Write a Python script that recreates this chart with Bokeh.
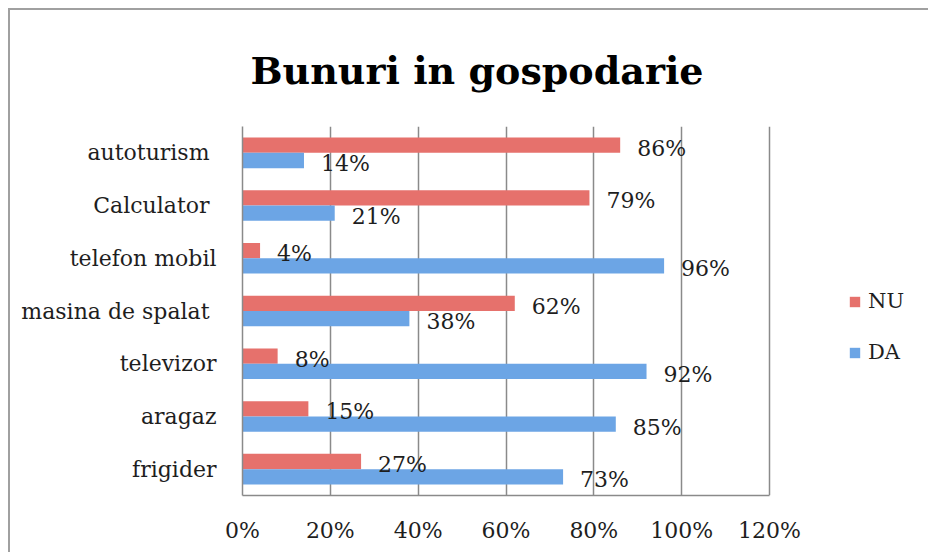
from bokeh.plotting import figure
from bokeh.models import (ColumnDataSource, FactorRange, Legend, LegendItem,
                          NumeralTickFormatter, FixedTicker, Range1d)
from bokeh.transform import dodge
from bokeh.core.properties import value
from bokeh.embed import file_html
from bokeh.resources import INLINE

categories = ["frigider", "aragaz", "televizor", "masina de spalat ",
              "telefon mobil", "Calculator ", "autoturism "]
da = [0.73, 0.85, 0.92, 0.38, 0.96, 0.21, 0.14]
nu = [0.27, 0.15, 0.08, 0.62, 0.04, 0.79, 0.86]
x_ticks = [0, 0.2, 0.4, 0.6, 0.8, 1.0, 1.2]
series_names = ["NU", "DA"]

FONT = "DejaVu Serif"
RED = "#e6716c"
BLUE = "#6ca5e5"
GRID = "#8a8a8a"
TXT = "#1e1e1e"

# layout (pixels): plotted axis spans 0..120% over 527 px; frame continues to the
# right so that the legend can sit beside the plot without being clipped
AXIS_PX = 527
FRAME_PX = 920 - 242
x_end = x_ticks[-1] * FRAME_PX / AXIS_PX

src = ColumnDataSource(dict(
    cat=categories, da=da, nu=nu,
    da_lbl=[f"{round(v * 100)}%" for v in da],
    nu_lbl=[f"{round(v * 100)}%" for v in nu],
))

p = figure(width=920, height=544, output_backend="svg", toolbar_location=None,
           y_range=FactorRange(factors=categories, range_padding=0),
           x_range=Range1d(0, x_end), title="Bunuri in gospodarie",
           min_border_left=232, min_border_right=10,
           min_border_top=116, min_border_bottom=59)
p.styles = {"margin-left": "8px", "margin-top": "8px",
            "border-left": "2px solid #a0a0a0", "border-top": "2px solid #a0a0a0"}
p.outline_line_color = None
p.background_fill_color = "white"

off = 0.145
h = 0.29
r_nu = p.hbar(y=dodge("cat", off, range=p.y_range), right="nu", left=0, height=h,
              source=src, fill_color=RED, line_color=None)
r_da = p.hbar(y=dodge("cat", -off, range=p.y_range), right="da", left=0, height=h,
              source=src, fill_color=BLUE, line_color=None)

for col, d in (("nu", off), ("da", -off)):
    p.text(x=col, y=dodge("cat", d, range=p.y_range), text=col + "_lbl", source=src,
           x_offset=17, y_offset=3, text_align="left", text_baseline="middle",
           text_font=value(FONT), text_font_size="22px", text_color=TXT)

# title
p.title.align = "left"
p.title.offset = 8
p.title.text_font = FONT
p.title.text_font_size = "38px"
p.title.text_font_style = "bold"
p.title.text_color = "#000000"
if "standoff" in p.title.properties():
    p.title.standoff = 67

# axes
p.xaxis.ticker = FixedTicker(ticks=x_ticks)
p.xaxis.formatter = NumeralTickFormatter(format="0%")
p.xaxis.bounds = (x_ticks[0], x_ticks[-1])
for ax in (p.xaxis, p.yaxis):
    ax.major_tick_line_color = None
    ax.minor_tick_line_color = None
    ax.axis_line_color = GRID
    ax.axis_line_width = 1.5
    ax.major_label_text_font = FONT
    ax.major_label_text_font_size = "22px"
    ax.major_label_text_color = TXT
p.xaxis.major_label_standoff = 16
p.yaxis.major_label_standoff = 20
p.ygrid.grid_line_color = None
p.xgrid.grid_line_color = GRID
p.xgrid.grid_line_width = 1.5

legend = Legend(items=[LegendItem(label=series_names[0], renderers=[r_nu]),
                       LegendItem(label=series_names[1], renderers=[r_da])],
                location=(606, 131), glyph_width=13, glyph_height=13,
                label_height=24, spacing=27, padding=0, margin=0,
                border_line_color=None, background_fill_alpha=0,
                label_text_font=FONT, label_text_font_size="21px",
                label_text_color=TXT, label_standoff=7)
p.add_layout(legend, "center")

open("out.html", "w").write(file_html(p, INLINE))
